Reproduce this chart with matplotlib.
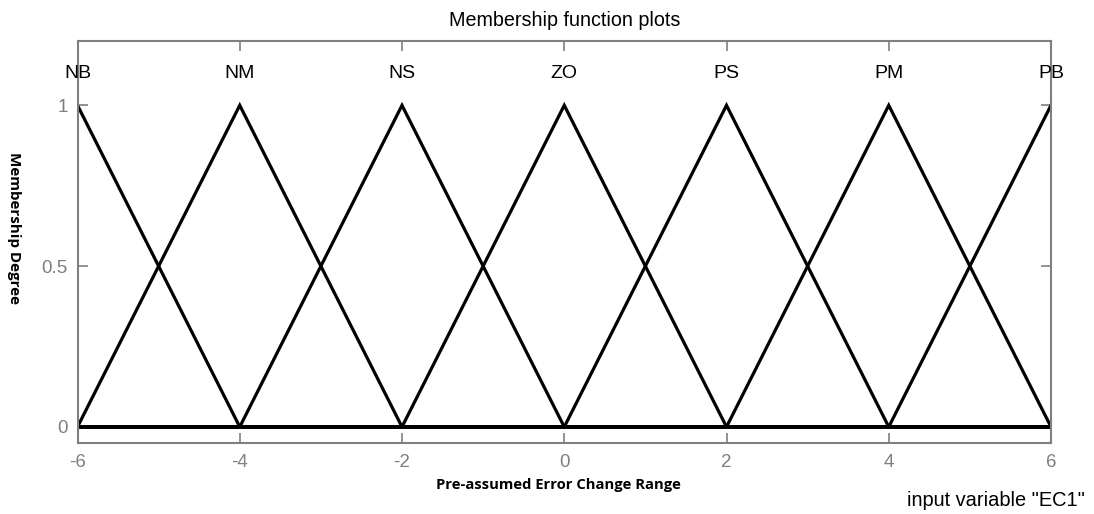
import numpy as np
import matplotlib
matplotlib.use("Agg")
import matplotlib.pyplot as plt

# Triangular membership functions for input variable "EC1"
mf_names = ["NB", "NM", "NS", "ZO", "PS", "PM", "PB"]
mf_left = [-8, -6, -4, -2, 0, 2, 4]
mf_peak = [-6, -4, -2, 0, 2, 4, 6]
mf_right = [-4, -2, 0, 2, 4, 6, 8]

x_range = [-6, 6]
x_ticks = [-6, -4, -2, 0, 2, 4, 6]
y_ticks = [0, 0.5, 1]
y_tick_labels = ["0", "0.5", "1"]

W, H = 1094, 514
fig = plt.figure(figsize=(W / 100, H / 100), dpi=100)
left, right, top, bottom = 77.5, 1051, 41, 443
ax = fig.add_axes([left / W, 1 - bottom / H, (right - left) / W, (bottom - top) / H])

grey = "#7f7f7f"
xs = np.linspace(x_range[0], x_range[1], 2401)


def trimf(x, a, b, c):
    up = (x - a) / (b - a)
    down = (c - x) / (c - b)
    return np.clip(np.minimum(up, down), 0, 1)


for name, a, b, c in zip(mf_names, mf_left, mf_peak, mf_right):
    ax.plot(xs, trimf(xs, a, b, c), color="black", lw=2.3, solid_joinstyle="miter")
    ax.text(b, 1.1, name, ha="center", va="center", fontsize=14,
            family="Liberation Sans", color="black")

ax.set_xlim(x_range)
ax.set_ylim(-0.05, 1.2)
ax.set_xticks(x_ticks)
ax.set_xticklabels([str(t) for t in x_ticks])
ax.set_yticks(y_ticks)
ax.set_yticklabels(y_tick_labels)
ax.tick_params(direction="in", length=7, width=1.2, color=grey,
               labelcolor=grey, labelsize=13.5, top=True, right=True)
ax.tick_params(axis="x", pad=8)
ax.tick_params(axis="y", pad=7)
for lbl in ax.get_xticklabels() + ax.get_yticklabels():
    lbl.set_family("Liberation Sans")
for sp in ax.spines.values():
    sp.set_color(grey)
    sp.set_linewidth(1.5)

fig.text(565 / W, 1 - 20 / H, "Membership function plots", ha="center", va="center",
         fontsize=14.2, family="Liberation Sans", color="black")
fig.text(558.5 / W, 1 - 485 / H, "Pre-assumed Error Change Range", ha="center", va="center",
         fontsize=10.6, family="Open Sans", weight="bold", color="black")
fig.text(14 / W, 1 - 228 / H, "Membership Degree", ha="center", va="center",
         rotation=-90, fontsize=10.9, family="Open Sans", weight="bold", color="black")
fig.text(1085 / W, 1 - 500 / H, 'input variable "EC1"', ha="right", va="center",
         fontsize=14.4, family="Liberation Sans", color="black")

fig.savefig("out.png", dpi=100)
